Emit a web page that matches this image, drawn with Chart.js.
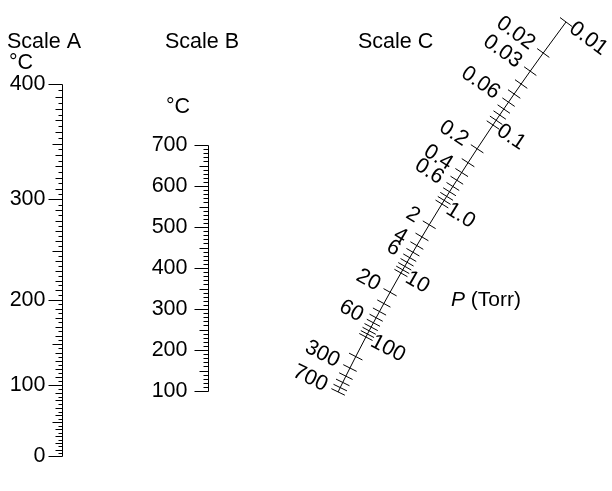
<!DOCTYPE html>
<html>
<head>
<meta charset="utf-8">
<script src="https://cdn.jsdelivr.net/npm/chart.js@4.4.0/dist/chart.umd.min.js"></script>
<style>
  html, body { margin: 0; padding: 0; background: #fff; }
  #wrap { width: 612px; height: 491px; }
</style>
</head>
<body>
<div id="wrap"><canvas id="nomo"></canvas></div>
<script>
// Scale A: observed boiling point, Scale B: boiling point at 760 Torr, Scale C: pressure
const scaleALabels = [0, 100, 200, 300, 400];
const scaleAStep = 5;
const scaleBLabels = [100, 200, 300, 400, 500, 600, 700];
const scaleBStep = 10;
const pressureDecades = [0.01, 0.1, 1, 10, 100];
const pressureMantissas = [1, 2, 3, 4, 5, 6, 7, 8, 9];
const pressureMax = 700;
const pressureLeftLabels = ['0.02', '0.03', '0.06', '0.2', '0.4', '0.6', '2', '4', '6', '20', '60', '300', '700'];
const pressureRightLabels = ['0.01', '0.1', '1.0', '10', '100'];

const FONT = '"Liberation Sans", Arial, sans-serif';
const W = 612, H = 491;

// layout of the three scales on the page (pixel space of the hidden x/y scales)
const posA = t => ({ x: 62.5, y: Math.round(456 - (0.635 * t + 0.000735 * t * t)) + 0.5 });
const posB = t => ({ x: 208.5, y: Math.round(391 - 0.41 * (t - 100)) + 0.5 });
// scale C: slightly curved line, y of each decade (0.01 .. 1000) then x from y
const decadeY = [22, 125, 204, 273, 337, 402];
const curveX = y => 582.6 - 0.761 * y + 0.00035 * y * y;
const curveSlope = y => -0.761 + 0.0007 * y;
const posC = p => {
  const k = Math.log10(p) + 2;
  const i = Math.max(0, Math.min(4, Math.floor(k + 1e-9)));
  const y = decadeY[i] + (k - i) * (decadeY[i + 1] - decadeY[i]);
  return { x: curveX(y), y };
};
const normalC = p => {
  const d = curveSlope(posC(p).y);
  const len = Math.hypot(1, d);
  return { x: 1 / len, y: -d / len };
};

const gap = { x: NaN, y: NaN };
function segData(segs) {
  const out = [];
  segs.forEach(s => out.push(...s, gap));
  return out;
}

// Scale A segments
const segA = [[posA(0), posA(400)]];
for (let t = 0; t <= 400; t += scaleAStep) {
  const p = posA(t);
  const len = t % 100 === 0 ? 14 : t % 50 === 0 ? 10 : t % 10 === 0 ? 7 : 4;
  segA.push([{ x: p.x - len, y: p.y }, { x: p.x, y: p.y }]);
}

// Scale B segments
const segB = [[posB(100), posB(700)]];
for (let t = 100; t <= 700; t += scaleBStep) {
  const p = posB(t);
  const len = t % 100 === 0 ? 14 : t % 50 === 0 ? 9 : 5;
  segB.push([{ x: p.x - len, y: p.y }, { x: p.x, y: p.y }]);
}

// Scale C segments
const pressureTicks = [];
pressureDecades.forEach(d => pressureMantissas.forEach(m => {
  const v = +(d * m).toPrecision(3);
  if (v <= pressureMax) pressureTicks.push(v);
}));
const segC = [pressureTicks.map(posC)];
pressureTicks.forEach(v => {
  const p = posC(v), n = normalC(v);
  const h = 7.5;
  segC.push([{ x: p.x - h * n.x, y: p.y - h * n.y }, { x: p.x + h * n.x, y: p.y + h * n.y }]);
});

const lineDs = (label, segs) => ({
  label,
  data: segData(segs),
  showLine: true,
  spanGaps: false,
  borderColor: '#000',
  borderWidth: 1,
  pointRadius: 0,
  pointHoverRadius: 0
});

const textPlugin = {
  id: 'nomoText',
  afterDatasetsDraw(chart) {
    const { ctx } = chart;
    const sx = chart.scales.x, sy = chart.scales.y;
    const px = v => sx.getPixelForValue(v), py = v => sy.getPixelForValue(v);
    ctx.save();
    ctx.fillStyle = '#000';
    ctx.font = '21.5px ' + FONT;
    ctx.textBaseline = 'middle';

    ctx.textAlign = 'left';
    ctx.fillText('Scale A', px(7), py(42));
    ctx.fillText('Scale B', px(165), py(42));
    ctx.fillText('Scale C', px(358), py(42));
    ctx.fillText('°C', px(9), py(63));
    ctx.fillText('°C', px(166), py(107));

    ctx.textAlign = 'right';
    scaleALabels.forEach(t => {
      const p = posA(t);
      ctx.fillText(String(t), px(p.x - 17), py(p.y));
    });
    scaleBLabels.forEach(t => {
      const p = posB(t);
      ctx.fillText(String(t), px(p.x - 21), py(p.y));
    });

    const drawC = (txt, side) => {
      const v = parseFloat(txt);
      const p = posC(v), n = normalC(v);
      const d = side < 0 ? -13 : 7;
      ctx.save();
      ctx.translate(px(p.x + d * n.x), py(p.y + d * n.y));
      ctx.rotate(Math.atan2(n.y, n.x));
      ctx.textAlign = side < 0 ? 'right' : 'left';
      ctx.fillText(txt, 0, 0);
      ctx.restore();
    };
    pressureLeftLabels.forEach(t => drawC(t, -1));
    pressureRightLabels.forEach(t => drawC(t, 1));

    ctx.textAlign = 'left';
    ctx.font = 'italic 21px ' + FONT;
    ctx.fillText('P', px(451), py(300));
    const wP = ctx.measureText('P ').width;
    ctx.font = '21px ' + FONT;
    ctx.fillText('(Torr)', px(451) + wP, py(300));
    ctx.restore();
  }
};

new Chart(document.getElementById('nomo'), {
  type: 'scatter',
  data: {
    datasets: [lineDs('A', segA), lineDs('B', segB), lineDs('C', segC)]
  },
  options: {
    responsive: true,
    maintainAspectRatio: false,
    animation: false,
    layout: { padding: 0 },
    plugins: { legend: { display: false }, tooltip: { enabled: false } },
    scales: {
      x: { type: 'linear', min: 0, max: W, display: false },
      y: { type: 'linear', min: 0, max: H, reverse: true, display: false }
    }
  },
  plugins: [textPlugin]
});
</script>
</body>
</html>
